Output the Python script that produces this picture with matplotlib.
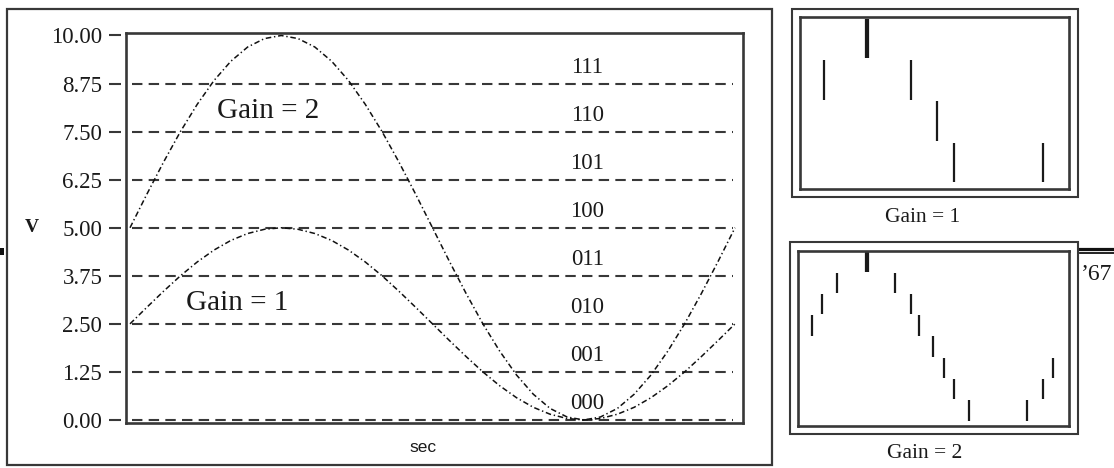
import matplotlib
matplotlib.use("Agg")
import matplotlib.pyplot as plt
import numpy as np
from matplotlib.patches import Rectangle
from matplotlib.lines import Line2D

plt.rcParams['lines.scale_dashes'] = False

# ---------------- data ----------------
# main chart: one period of the input, sampled every 1/36 of the sweep
sec = np.linspace(0, 1, 37)
gain1 = [2.50, 2.93, 3.35, 3.75, 4.11, 4.42, 4.67, 4.85, 4.96, 5.00, 4.96, 4.85,
         4.67, 4.42, 4.11, 3.75, 3.35, 2.93, 2.50, 2.07, 1.65, 1.25, 0.89, 0.58,
         0.33, 0.15, 0.04, 0.00, 0.04, 0.15, 0.33, 0.58, 0.89, 1.25, 1.65, 2.07, 2.50]
gain2 = [5.00, 5.87, 6.71, 7.50, 8.21, 8.83, 9.33, 9.70, 9.92, 10.00, 9.92, 9.70,
         9.33, 8.83, 8.21, 7.50, 6.71, 5.87, 5.00, 4.13, 3.29, 2.50, 1.79, 1.17,
         0.67, 0.30, 0.08, 0.00, 0.08, 0.30, 0.67, 1.17, 1.79, 2.50, 3.29, 4.13, 5.00]
y_ticks = [0.00, 1.25, 2.50, 3.75, 5.00, 6.25, 7.50, 8.75, 10.00]
grid_levels = [0.00, 1.25, 2.50, 3.75, 5.00, 6.25, 7.50, 8.75]
codes = ["000", "001", "010", "011", "100", "101", "110", "111"]

# small panels: quantised code and the times at which it changes
g1_codes = [2, 3, 4, 3, 2, 1, 0, 1]
g1_times = [0.089, 0.245, 0.254, 0.413, 0.509, 0.572, 0.903]
g2_codes = [4, 5, 6, 7, 8, 7, 6, 5, 4, 3, 2, 1, 0, 1, 2, 3]
g2_times = [0.045, 0.082, 0.138, 0.245, 0.254, 0.353, 0.413, 0.442, 0.494,
            0.535, 0.572, 0.628, 0.844, 0.903, 0.941]

# ---------------- figure ----------------
W, H = 1114, 468
fig = plt.figure(figsize=(W / 100, H / 100), dpi=100)
FR = '#383838'
TX = '#1a1a1a'
serif = ['Liberation Serif', 'DejaVu Serif']


def frect(x0, y0, x1, y1):
    return [x0 / W, 1 - y1 / H, (x1 - x0) / W, (y1 - y0) / H]


def fig_rect(x0, y0, x1, y1, lw):
    fig.add_artist(Rectangle((x0 / W, 1 - y1 / H), (x1 - x0) / W, (y1 - y0) / H,
                             transform=fig.transFigure, fill=False, lw=lw, ec=FR))


# outer frame of main chart
fig_rect(7, 9, 772, 465, 1.6)

ax = fig.add_axes(frect(126, 33, 743, 423))
ax.set_xlim(-4 / 605, 1 + 8 / 605)
ax.set_ylim(-0.078, 10.065)
for s in ['top', 'right', 'bottom']:
    ax.spines[s].set_linewidth(1.9)
    ax.spines[s].set_color(FR)
ax.spines['left'].set_position(('outward', 3.6))
ax.spines['left'].set_visible(False)
ax.add_line(Line2D([0, 0], [0, 1], transform=ax.transAxes, lw=1.9, color=FR,
                   clip_on=False, solid_capstyle='projecting'))
ax.set_xticks([])
ax.set_yticks(y_ticks)
ax.set_yticklabels([f"{v:.2f}" for v in y_ticks], family=serif, fontsize=16.5, color=TX)
ax.tick_params(axis='y', direction='out', length=8.5, width=1.5, color=FR, pad=5)

ax.hlines(grid_levels, 0.003, 0.997, colors=FR, linewidth=1.5,
          linestyles=[(0, (7.5, 4.5))])

ax.plot(sec, gain2, color='#111111', lw=1.1, ls=(0, (4, 2, 1, 2)), clip_on=False)
ax.plot(sec, gain1, color='#111111', lw=1.1, ls=(0, (4, 2, 1, 2)), clip_on=False)

for i, c in enumerate(codes):
    ax.text(0.756, grid_levels[i] + 0.42, c, ha='center', va='center',
            family=serif, fontsize=16.5, color=TX)

ax.text(0.228, 8.03, "Gain = 2", ha='center', va='center', family=serif,
        fontsize=21, color=TX)
ax.text(0.177, 3.04, "Gain = 1", ha='center', va='center', family=serif,
        fontsize=21, color=TX)

fig.text(32 / W, 1 - 227 / H, "V", ha='center', va='center', family=serif,
         fontsize=14, color=TX, weight='bold')
fig.text(423 / W, 1 - 448 / H, "sec", ha='center', va='center',
         family=['Liberation Sans', 'DejaVu Sans'], fontsize=12.5, color=TX)


# ---------------- small panels ----------------
def panel(rect_inner, rect_outer, ylim, xlim, times, levels, label, label_xy):
    fig_rect(*rect_outer, 1.5)
    a = fig.add_axes(frect(*rect_inner))
    a.set_xlim(*xlim)
    a.set_ylim(*ylim)
    a.set_xticks([])
    a.set_yticks([])
    for s in a.spines.values():
        s.set_linewidth(1.9)
        s.set_color(FR)
    for i, t in enumerate(times):
        lo, hi = sorted((levels[i], levels[i + 1]))
        a.vlines(t, lo + 0.02, hi - 0.02, colors='#1a1a1a', linewidth=1.6)
    fig.text(label_xy[0] / W, 1 - label_xy[1] / H, label, ha='center', va='center',
             family=serif, fontsize=15.5, color=TX)
    return a


panel((800, 17, 1069, 189), (792, 9, 1078, 197), (-0.145, 4.025), (0, 1),
      g1_times, g1_codes, "Gain = 1", (923, 218))
panel((798, 251, 1069, 426), (790, 242, 1078, 434), (-0.235, 8.0), (-2 / 269, 1),
      g2_times, g2_codes, "Gain = 2", (925, 454))

# cropping artefacts at the page edges
fig.add_artist(Line2D([1080 / W, 1], [1 - 248.5 / H] * 2, transform=fig.transFigure,
                      lw=2.3, color='#111111'))
fig.add_artist(Line2D([1080 / W, 1], [1 - 253 / H] * 2, transform=fig.transFigure,
                      lw=1.3, color='#111111'))
fig.text(1081 / W, 1 - 275 / H, "\u201967", ha='left', va='center', family=serif,
         fontsize=17, color=TX)
fig.add_artist(Rectangle((0, 1 - 255 / H), 4 / W, 7 / H, transform=fig.transFigure,
                         color='#111111', lw=0))

fig.savefig("out.png", dpi=100)
